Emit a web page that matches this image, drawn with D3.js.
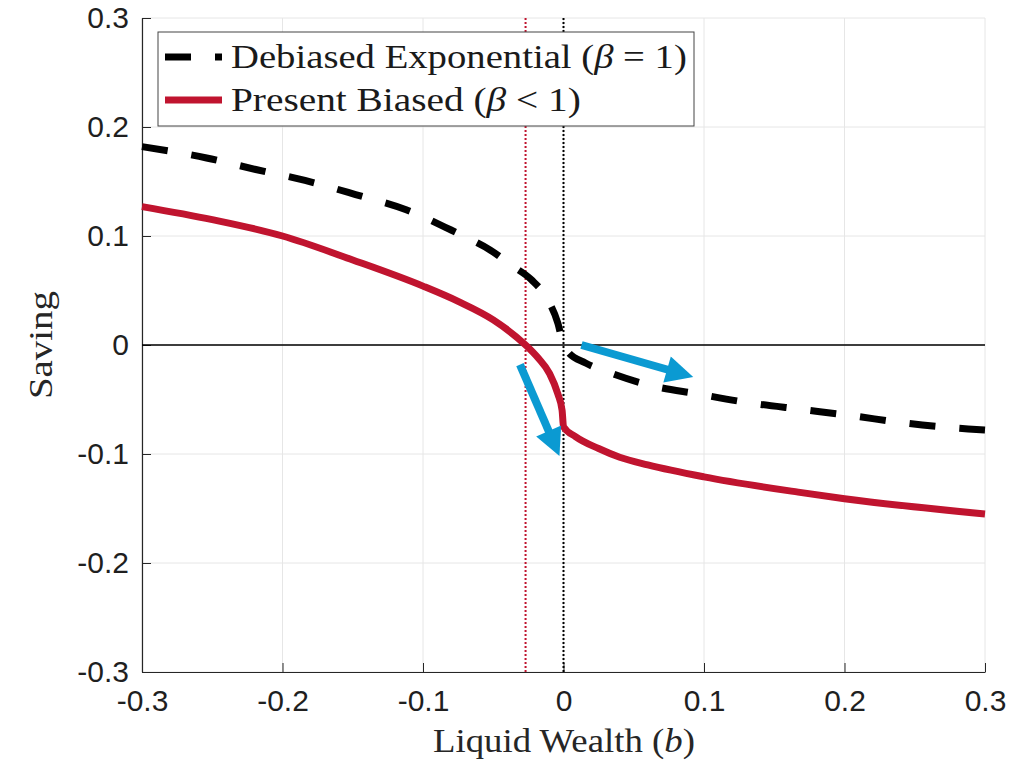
<!DOCTYPE html>
<html>
<head>
<meta charset="utf-8">
<script src="https://cdn.jsdelivr.net/npm/d3@7"></script>
<style>
  body { margin: 0; background: #fff; }
</style>
</head>
<body>
<div id="chart"></div>
<script>
// Data
const xTicks = [-0.3, -0.2, -0.1, 0, 0.1, 0.2, 0.3];
const yTicks = [-0.3, -0.2, -0.1, 0, 0.1, 0.2, 0.3];

const debiasedX = [-0.3, -0.254, -0.219, -0.184, -0.148, -0.112, -0.08, -0.068, -0.052, -0.037, -0.023, -0.011, -0.004, 0, 0.003, 0.0157, 0.032, 0.0605, 0.096, 0.132, 0.169, 0.206, 0.243, 0.288, 0.3];
const debiasedY = [0.182, 0.1716, 0.161, 0.151, 0.138, 0.124, 0.1055, 0.098, 0.087, 0.073, 0.06, 0.041, 0.02, 0.0, -0.006, -0.0165, -0.025, -0.0367, -0.045, -0.053, -0.059, -0.065, -0.0716, -0.077, -0.078];

const biasedX = [-0.3, -0.25, -0.2, -0.15, -0.1, -0.075, -0.05, -0.027, -0.018, -0.01, -0.004, -0.001, 0, 0.0085, 0.025, 0.04, 0.06, 0.1, 0.167, 0.2, 0.3];
const biasedY = [0.127, 0.115, 0.1, 0.078, 0.054, 0.04, 0.023, 0.0, -0.012, -0.026, -0.045, -0.06, -0.075, -0.084, -0.095, -0.103, -0.11, -0.121, -0.135, -0.141, -0.155];

const thresholdX = [-0.027, 0];
// arrows: [x0, y0, x1, y1]
const arrows = [[0.0128, 0.0, 0.0925, -0.0294], [-0.031, -0.018, -0.0028, -0.102]];

const legendLabels = ["Debiased Exponential", "Present Biased"];

const red = "#c0142f", blue = "#0b9ad2";
const serif = "'Liberation Serif', 'DejaVu Serif', serif";

const W = 1023, H = 768;
const margin = { top: 18, right: 38, bottom: 96, left: 142 };
const width = W - margin.left - margin.right,
      height = H - margin.top - margin.bottom;

const svg = d3.select("#chart").append("svg")
    .attr("width", W).attr("height", H);
const g = svg.append("g").attr("transform", `translate(${margin.left},${margin.top})`);

const x = d3.scaleLinear().domain([-0.3, 0.3]).range([0, width]);
const y = d3.scaleLinear().domain([-0.3, 0.3]).range([height, 0]);

const fmt = d => d === 0 ? "0" : d.toFixed(1);

// widen a text element horizontally so it spans the given width (the serif in the
// original is wider than Liberation Serif)
function placeText(sel, px, py, target, rotate) {
    const w = sel.node().getComputedTextLength();
    const k = target / w;
    sel.attr("transform", `translate(${px},${py})${rotate ? " rotate(-90)" : ""} scale(${k},1)`);
}

// grid
g.append("g").selectAll("line").data(xTicks).join("line")
    .attr("x1", d => x(d)).attr("x2", d => x(d))
    .attr("y1", 0).attr("y2", height)
    .attr("stroke", "#e6e6e6").attr("stroke-width", 1);
g.append("g").selectAll("line").data(yTicks).join("line")
    .attr("x1", 0).attr("x2", width)
    .attr("y1", d => y(d)).attr("y2", d => y(d))
    .attr("stroke", "#e6e6e6").attr("stroke-width", 1);

// axes
const xAxis = g.append("g").attr("transform", `translate(0,${height})`)
    .call(d3.axisBottom(x).tickValues(xTicks).tickFormat(fmt).tickSizeInner(-9).tickSizeOuter(0).tickPadding(18));
const yAxis = g.append("g")
    .call(d3.axisLeft(y).tickValues(yTicks).tickFormat(fmt).tickSizeInner(-9).tickSizeOuter(0).tickPadding(13));
[xAxis, yAxis].forEach(a => {
    a.attr("font-size", 30).attr("font-family", "'Liberation Sans', Arial, sans-serif");
    a.select(".domain").attr("stroke", "#262626").attr("stroke-width", 1.2);
    a.selectAll(".tick line").attr("stroke", "#262626");
    a.selectAll(".tick text").attr("fill", "#1f1f1f");
});
xAxis.selectAll(".tick text").attr("dy", "0.71em");

// zero line
g.append("line")
    .attr("x1", 0).attr("x2", width)
    .attr("y1", y(0)).attr("y2", y(0))
    .attr("stroke", "#000").attr("stroke-width", 1.6);

// vertical dotted lines
g.selectAll(".vline").data(thresholdX).join("line")
    .attr("class", "vline")
    .attr("x1", d => x(d)).attr("x2", d => x(d))
    .attr("y1", 0).attr("y2", height)
    .attr("stroke", (d, i) => i === 0 ? red : "#000")
    .attr("stroke-width", 2)
    .attr("stroke-dasharray", "2,2");

const line = d3.line().x(d => x(d[0])).y(d => y(d[1])).curve(d3.curveMonotoneX);

g.append("path")
    .datum(biasedX.map((v, i) => [v, biasedY[i]]))
    .attr("d", line)
    .attr("fill", "none").attr("stroke", red).attr("stroke-width", 7);

g.append("path")
    .datum(debiasedX.map((v, i) => [v, debiasedY[i]]))
    .attr("d", line)
    .attr("fill", "none").attr("stroke", "#000").attr("stroke-width", 7)
    .attr("stroke-dasharray", "26,24");

// arrows
svg.append("defs").append("marker")
    .attr("id", "head")
    .attr("viewBox", "0 0 10 10")
    .attr("refX", 2).attr("refY", 5)
    .attr("markerWidth", 3.8).attr("markerHeight", 3.4)
    .attr("orient", "auto")
    .append("path").attr("d", "M0,0 L10,5 L0,10 Z").attr("fill", blue);

g.selectAll(".arrow").data(arrows).join("line")
    .attr("class", "arrow")
    .each(function(d) {
        // shorten the shaft so the head tip lands at the end point
        const x0 = x(d[0]), y0 = y(d[1]), x1 = x(d[2]), y1 = y(d[3]);
        const len = Math.hypot(x1 - x0, y1 - y0), k = (len - 22) / len;
        d3.select(this)
            .attr("x1", x0).attr("y1", y0)
            .attr("x2", x0 + (x1 - x0) * k).attr("y2", y0 + (y1 - y0) * k);
    })
    .attr("stroke", blue).attr("stroke-width", 8)
    .attr("marker-end", "url(#head)");

// legend
const lg = svg.append("g");
lg.append("rect")
    .attr("x", 158).attr("y", 32).attr("width", 536).attr("height", 94)
    .attr("fill", "#fff").attr("stroke", "#444").attr("stroke-width", 1);
const rows = [
    { label: legendLabels[0], op: "=", color: "#000", dash: "26,24", cy: 57, w: 456 },
    { label: legendLabels[1], op: "<", color: red, dash: null, cy: 100, w: 350 }
];
rows.forEach(r => {
    lg.append("line")
        .attr("x1", 165).attr("x2", 222).attr("y1", r.cy).attr("y2", r.cy)
        .attr("stroke", r.color).attr("stroke-width", 7)
        .attr("stroke-dasharray", r.dash);
    const t = lg.append("text")
        .style("font-family", serif)
        .style("font-size", "33px").attr("fill", "#1a1a1a");
    t.append("tspan").text(r.label + " (");
    t.append("tspan").style("font-style", "italic").text("β");
    t.append("tspan").text(` ${r.op} 1)`);
    placeText(t, 231, r.cy + 11, r.w);
});

// axis labels
const xl = svg.append("text")
    .style("font-family", serif).style("font-size", "33px")
    .attr("fill", "#262626");
xl.append("tspan").text("Liquid Wealth (");
xl.append("tspan").style("font-style", "italic").text("b");
xl.append("tspan").text(")");
placeText(xl, 433, 752, 262);

const yl = svg.append("text")
    .style("font-family", serif).style("font-size", "33px")
    .attr("fill", "#262626")
    .text("Saving");
placeText(yl, 52, margin.top + height / 2 + 54, 108, true);
</script>
</body>
</html>
